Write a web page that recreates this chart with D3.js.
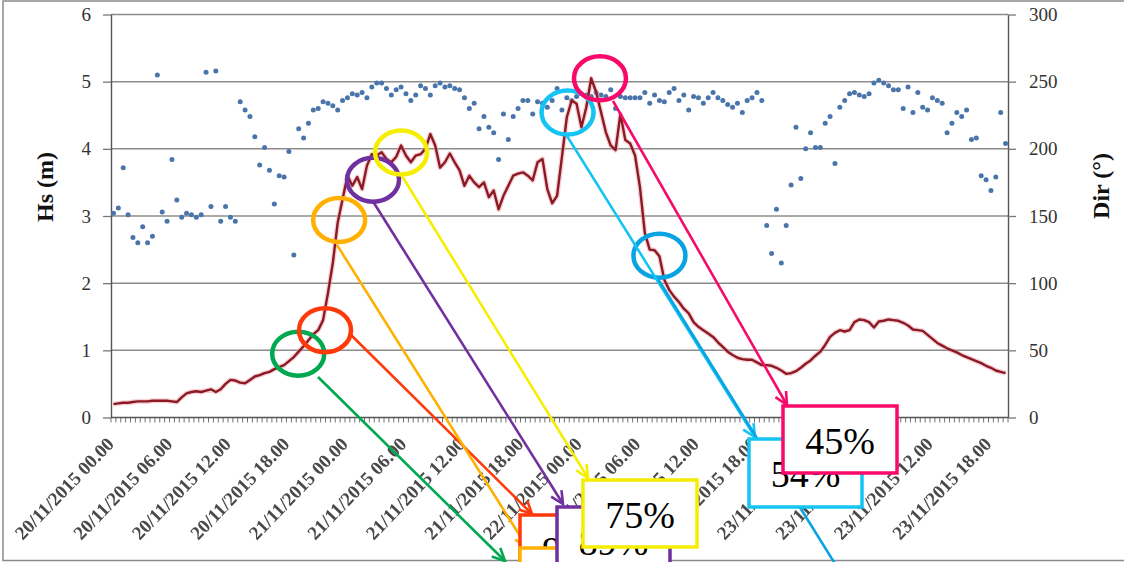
<!DOCTYPE html>
<html>
<head>
<meta charset="utf-8">
<script src="https://cdn.jsdelivr.net/npm/d3@7"></script>
<style>
  html, body { margin: 0; padding: 0; background: #fff; }
  svg { display: block; }
</style>
</head>
<body>
<svg id="chart" width="1124" height="562"></svg>
<script>
// Significant wave height (m), half-hourly from 20/11/2015 00.00
const hsValues = [
  0.20,0.21,0.22,0.22,0.23,0.24,0.24,0.24,0.25,0.25,
  0.25,0.25,0.24,0.23,0.30,0.36,0.38,0.39,0.38,0.40,
  0.42,0.38,0.42,0.50,0.56,0.55,0.52,0.51,0.56,0.61,
  0.63,0.66,0.68,0.72,0.75,0.78,0.84,0.90,0.98,1.06,
  1.15,1.24,1.30,1.45,1.85,2.30,2.90,3.25,3.60,3.45,
  3.58,3.40,3.75,3.92,3.90,3.95,3.85,3.80,3.88,4.05,
  3.90,3.80,3.90,3.92,4.00,4.22,4.05,3.72,3.80,3.93,
  3.80,3.68,3.45,3.60,3.50,3.43,3.50,3.28,3.38,3.10,
  3.30,3.45,3.60,3.63,3.65,3.60,3.53,3.80,3.85,3.40,
  3.19,3.30,3.88,4.47,4.72,4.67,4.32,4.62,5.05,4.85,
  4.55,4.25,4.05,3.98,4.52,4.13,4.08,3.90,3.43,2.75,
  2.50,2.49,2.40,2.05,1.90,1.80,1.72,1.62,1.55,1.42,
  1.35,1.30,1.25,1.20,1.12,1.05,0.98,0.93,0.89,0.87,
  0.86,0.86,0.82,0.78,0.78,0.77,0.74,0.70,0.65,0.66,
  0.69,0.74,0.80,0.85,0.92,0.98,1.08,1.20,1.26,1.30,
  1.28,1.30,1.42,1.46,1.45,1.42,1.34,1.43,1.44,1.46,
  1.45,1.44,1.41,1.37,1.31,1.30,1.29,1.23,1.17,1.11,
  1.07,1.03,1.00,0.97,0.93,0.90,0.87,0.84,0.81,0.77,
  0.74,0.70,0.68,0.66
];

// Mean wave direction (degrees), same timestamps
const dirValues = [
  152,156,186,151,134,130,142,130,135,255,
  153,146,192,162,149,152,151,149,151,257,
  157,258,146,157,149,146,235,229,224,209,
  188,201,184,159,180,179,198,121,215,208,
  219,229,230,235,234,232,229,236,238,241,
  240,242,238,246,249,249,245,240,244,246,
  241,236,240,247,245,240,247,249,246,247,
  245,244,238,230,234,215,224,216,212,192,
  226,207,224,230,236,236,226,235,234,231,
  236,245,229,238,236,239,241,240,239,242,
  240,239,244,230,239,238,238,238,238,242,
  234,240,236,235,242,245,236,240,229,239,
  238,234,238,242,238,236,233,231,234,227,
  236,238,242,236,143,122,155,115,143,173,
  216,178,200,212,201,201,219,224,189,231,
  236,241,242,240,239,241,249,251,249,247,
  244,244,230,246,227,242,231,229,238,236,
  234,212,219,227,224,229,207,208,180,177,
  169,179,227,204
];

const tickLabels = [
  "20/11/2015 00.00","20/11/2015 06.00","20/11/2015 12.00","20/11/2015 18.00",
  "21/11/2015 00.00","21/11/2015 06.00","21/11/2015 12.00","21/11/2015 18.00",
  "22/11/2015 00.00","22/11/2015 06.00","22/11/2015 12.00","22/11/2015 18.00",
  "23/11/2015 00.00","23/11/2015 06.00","23/11/2015 12.00","23/11/2015 18.00"
];
const hsTicks = [0, 1, 2, 3, 4, 5, 6];
const dirTicks = [0, 50, 100, 150, 200, 250, 300];

// Highlighted moments: sample position, Hs level, percentage label
const calloutIndex = [37.9, 43.4, 46.3, 53.25, 59.0, 93.15, 99.8, 112.0];
const calloutHs    = [0.95, 1.30, 2.94, 3.54, 3.945, 4.54, 5.05, 2.41];
const calloutText  = ["", "96%", "", "89%", "75%", "54%", "45%", ""];

// Category axis: one entry per half hour
const fmt = d3.timeFormat("%d/%m/%Y %H.%M");
const start = new Date(2015, 10, 20, 0, 0);
const categories = hsValues.map((_, i) => fmt(d3.timeMinute.offset(start, 30 * i)));

const W = 1124, H = 562;
const plot = { left: 111, right: 1008, top: 14.5, bottom: 417.5 };
const serif = "'Liberation Serif', 'Times New Roman', serif";

const svg = d3.select("#chart");

const x = d3.scaleBand().domain(categories).range([plot.left, plot.right]);
const xc = c => x(c) + x.bandwidth() / 2;
const xAt = idx => plot.left + (idx + 0.5) * x.step();
const yL = d3.scaleLinear().domain([0, 6]).range([plot.bottom, plot.top]);
const yR = d3.scaleLinear().domain([0, 300]).range([plot.bottom, plot.top]);

// outer frame
svg.append("rect")
  .attr("x", 3).attr("y", 1).attr("width", W + 20).attr("height", H - 2.5)
  .attr("fill", "none").attr("stroke", "#8a8a8a").attr("stroke-width", 1.5);

// horizontal gridlines
svg.append("g").selectAll("line")
  .data(hsTicks.filter(v => v > 0))
  .join("line")
  .attr("x1", plot.left).attr("x2", plot.right)
  .attr("y1", d => yL(d)).attr("y2", d => yL(d))
  .attr("stroke", "#8c8c8c").attr("stroke-width", 1.5);

// left axis
const gL = svg.append("g")
  .attr("transform", `translate(${plot.left},0)`)
  .call(d3.axisLeft(yL).tickValues(hsTicks).tickFormat(d3.format("d"))
    .tickSize(8).tickSizeOuter(0).tickPadding(12));
// right axis
const gR = svg.append("g")
  .attr("transform", `translate(${plot.right},0)`)
  .call(d3.axisRight(yR).tickValues(dirTicks).tickFormat(d3.format("d"))
    .tickSize(8).tickSizeOuter(0).tickPadding(13));

[gL, gR].forEach(g => {
  g.select(".domain").attr("stroke", "#555").attr("stroke-width", 1.4);
  g.selectAll(".tick line").attr("stroke", "#777").attr("stroke-width", 1.3);
  g.selectAll(".tick text")
    .attr("font-family", serif).attr("font-size", 19).attr("fill", "#333");
});

// bottom axis: line, a tick between every pair of categories, rotated date labels
const gX = svg.append("g");
gX.selectAll("line.tk")
  .data(categories.map(c => x(c)).concat([plot.right]))
  .join("line").attr("class", "tk")
  .attr("x1", d => d).attr("x2", d => d)
  .attr("y1", plot.bottom).attr("y2", plot.bottom + 5)
  .attr("stroke", "#707070").attr("stroke-width", 1);
gX.append("line")
  .attr("x1", plot.left).attr("x2", plot.right)
  .attr("y1", plot.bottom).attr("y2", plot.bottom)
  .attr("stroke", "#555").attr("stroke-width", 1.5);

const defs = svg.append("defs");
defs.append("filter").attr("id", "soft")
  .append("feGaussianBlur").attr("stdDeviation", 0.5);

gX.append("g").attr("filter", "url(#soft)")
  .selectAll("text")
  .data(tickLabels)
  .join("text")
  .attr("transform", d => `translate(${xc(d) - 3},${plot.bottom + 23}) rotate(-46)`)
  .attr("text-anchor", "end")
  .attr("dy", "0.35em")
  .attr("font-family", serif).attr("font-size", 19).attr("font-weight", "bold")
  .attr("fill", "#4a4a4a")
  .text(d => d);

// axis titles
svg.append("text")
  .attr("transform", "translate(45,187) rotate(-90)")
  .attr("text-anchor", "middle").attr("dominant-baseline", "central")
  .attr("font-family", serif).attr("font-size", 24).attr("font-weight", "bold")
  .attr("fill", "#111").text("Hs (m)");
svg.append("text")
  .attr("transform", "translate(1101,186) rotate(-90)")
  .attr("text-anchor", "middle").attr("dominant-baseline", "central")
  .attr("font-family", serif).attr("font-size", 24).attr("font-weight", "bold")
  .attr("fill", "#111").text("Dir (°)");

// direction scatter
svg.append("g").selectAll("circle")
  .data(dirValues)
  .join("circle")
  .attr("cx", (d, i) => xc(categories[i]))
  .attr("cy", d => yR(d))
  .attr("r", 2.5)
  .attr("fill", "#4a75ab");

// Hs line with a soft halo
const line = d3.line().x((d, i) => xc(categories[i])).y(d => yL(d));
svg.append("path").datum(hsValues).attr("d", line)
  .attr("fill", "none").attr("stroke", "#ec9aa5").attr("stroke-width", 5)
  .attr("stroke-opacity", 0.45).attr("stroke-linejoin", "round");
svg.append("path").datum(hsValues).attr("d", line)
  .attr("fill", "none").attr("stroke", "#8b1a24").attr("stroke-width", 2.4)
  .attr("stroke-linejoin", "round");

// ---- callouts ----
const calloutColor = ["#00a84f", "#ff3a0a", "#ffb000", "#7030a0", "#f5ee00", "#14c4f2", "#f80a6a", "#08a3e2"];
// leader lines: start and end points in page pixels
const leader = [
  [318, 377, 505, 561], [349, 333, 532, 514], [337, 245, 527, 547], [374, 203, 563, 504],
  [402, 176, 588, 478], [567, 136, 755, 437], [613, 101, 787, 405], [658, 279, 842, 575]
];
const arrowTip = [true, true, true, true, true, true, true, false];
// boxes: x, y, w, h
const box = [
  null, [520, 515, 114, 67], [520, 548, 114, 67], [557, 507, 113, 67],
  [583, 480, 114, 67], [749, 439, 113, 68], [783, 406, 114, 67], null
];

const ann = svg.append("g");

// ellipses around the highlighted points
ann.selectAll("ellipse")
  .data(calloutIndex)
  .join("ellipse")
  .attr("cx", d => xAt(d))
  .attr("cy", (d, i) => yL(calloutHs[i]))
  .attr("rx", 26).attr("ry", 22)
  .attr("fill", "none")
  .attr("stroke", (d, i) => calloutColor[i])
  .attr("stroke-width", 4.5);

// leader lines with open arrow heads
leader.forEach((p, i) => {
  const [x1, y1, x2, y2] = p;
  ann.append("line")
    .attr("x1", x1).attr("y1", y1).attr("x2", x2).attr("y2", y2)
    .attr("stroke", calloutColor[i]).attr("stroke-width", 2.6);
  if (arrowTip[i]) {
    const a = Math.atan2(y2 - y1, x2 - x1), len = 14, spread = 0.45;
    const p1 = [x2 - len * Math.cos(a - spread), y2 - len * Math.sin(a - spread)];
    const p2 = [x2 - len * Math.cos(a + spread), y2 - len * Math.sin(a + spread)];
    ann.append("path")
      .attr("d", `M${p1[0]},${p1[1]}L${x2},${y2}L${p2[0]},${p2[1]}`)
      .attr("fill", "none").attr("stroke", calloutColor[i])
      .attr("stroke-width", 2.6).attr("stroke-linejoin", "miter");
  }
});

// labelled boxes, stacked in order
box.forEach((b, i) => {
  if (!b) return;
  const [bx, by, bw, bh] = b;
  ann.append("rect")
    .attr("x", bx).attr("y", by).attr("width", bw).attr("height", bh)
    .attr("fill", "#fff").attr("stroke", calloutColor[i]).attr("stroke-width", 3.5);
  if (calloutText[i]) {
    ann.append("text")
      .attr("x", bx + bw / 2).attr("y", by + 48)
      .attr("text-anchor", "middle")
      .attr("font-family", serif).attr("font-size", 38).attr("fill", "#000")
      .text(calloutText[i]);
  }
});
</script>
</body>
</html>
